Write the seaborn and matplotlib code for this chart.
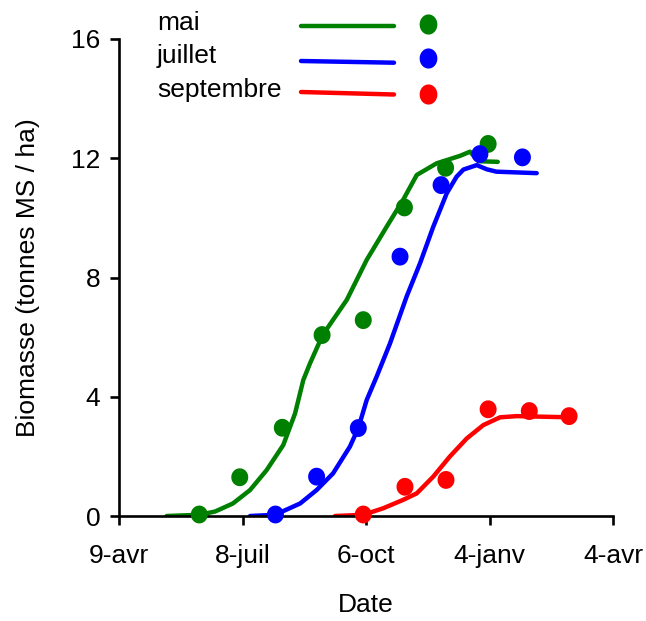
import numpy as np
import pandas as pd
import matplotlib
matplotlib.use("Agg")
import matplotlib.pyplot as plt
from matplotlib.lines import Line2D
from matplotlib.path import Path
import seaborn as sns

# ---- data (x = days after 9 April) ----
series_names = ["mai", "juillet", "septembre"]
series_colors = ["#008000", "#0000ff", "#ff0000"]

mai_obs_day = [58.5, 88, 119, 148, 178, 208, 238, 269]
mai_obs_val = [0.05, 1.3, 2.96, 6.07, 6.57, 10.35, 11.68, 12.48]
juillet_obs_day = [114, 144, 174.4, 204.8, 234.7, 263, 294]
juillet_obs_val = [0.05, 1.32, 2.95, 8.7, 11.1, 12.14, 12.03]
septembre_obs_day = [178, 208.4, 238.3, 269, 299, 328]
septembre_obs_val = [0.05, 0.98, 1.21, 3.58, 3.52, 3.35]

mai_fit_day = [34.7, 58.5, 70, 83, 95.5, 107.6, 119.7, 128.3, 134.3, 139.2, 148.4, 166, 180.5,
               195, 207, 217, 231.5, 248.5, 255.8, 262, 276]
mai_fit_val = [0.0, 0.04, 0.15, 0.42, 0.87, 1.54, 2.38, 3.44, 4.56, 5.12, 6.07, 7.25, 8.59,
               9.7, 10.6, 11.44, 11.83, 12.08, 12.22, 11.9, 11.88]
juillet_fit_day = [95.5, 113.7, 132, 144, 156, 168.3, 174.4, 180.5, 187.8, 197.5, 209.6, 219.4,
                   229, 238.8, 246, 251, 260.7, 268, 275, 304.4]
juillet_fit_val = [0.0, 0.04, 0.42, 0.87, 1.43, 2.33, 2.95, 3.89, 4.68, 5.79, 7.36, 8.48,
                   9.7, 10.82, 11.38, 11.62, 11.77, 11.63, 11.55, 11.5]
septembre_fit_day = [157.4, 178, 192.6, 207, 217, 229, 241, 253.4, 265.5, 277.7, 289.8, 328.6]
septembre_fit_val = [0.0, 0.04, 0.26, 0.54, 0.76, 1.32, 1.99, 2.6, 3.05, 3.31, 3.35, 3.31]

x_ticks = [0, 90, 180, 270, 360]
x_tick_labels = ["9-avr", "8-juil", "6-oct", "4-janv", "4-avr"]
y_ticks = [0, 4, 8, 12, 16]

obs = pd.concat([
    pd.DataFrame({"day": mai_obs_day, "val": mai_obs_val, "serie": "mai"}),
    pd.DataFrame({"day": juillet_obs_day, "val": juillet_obs_val, "serie": "juillet"}),
    pd.DataFrame({"day": septembre_obs_day, "val": septembre_obs_val, "serie": "septembre"}),
], ignore_index=True)
fit = pd.concat([
    pd.DataFrame({"day": mai_fit_day, "val": mai_fit_val, "serie": "mai"}),
    pd.DataFrame({"day": juillet_fit_day, "val": juillet_fit_val, "serie": "juillet"}),
    pd.DataFrame({"day": septembre_fit_day, "val": septembre_fit_val, "serie": "septembre"}),
], ignore_index=True)

sns.set_theme(style="ticks")
plt.rcParams["font.family"] = ["Liberation Sans", "DejaVu Sans"]

# slightly tall oval markers, as in the reference
_t = np.linspace(0, 2 * np.pi, 60)
oval_pt = Path(np.column_stack([0.95 * np.cos(_t), np.sin(_t)]), closed=True)
oval_lg = Path(np.column_stack([0.88 * np.cos(_t), np.sin(_t)]), closed=True)

FS = 19
fig = plt.figure(figsize=(6.46, 6.21), dpi=100)
W, H = 646, 621
ax = fig.add_axes([119 / W, (H - 516) / H, (613 - 119) / W, (516 - 39) / H])

palette = dict(zip(series_names, series_colors))
sns.lineplot(data=fit, x="day", y="val", hue="serie", palette=palette, hue_order=series_names,
             linewidth=3.2, ax=ax, legend=False, sort=False, estimator=None)
sns.scatterplot(data=obs, x="day", y="val", hue="serie", palette=palette, hue_order=series_names,
                s=165, marker=oval_pt, linewidth=0, ax=ax, legend=False, zorder=5, clip_on=False)

ax.set_xlim(0, 360)
ax.set_ylim(0, 16)
ax.set_xticks(x_ticks)
ax.set_xticklabels(x_tick_labels)
ax.set_yticks(y_ticks)
ax.set_yticklabels([str(v) for v in y_ticks])
sns.despine(ax=ax)
for s in ["left", "bottom"]:
    ax.spines[s].set_linewidth(1.9)
    ax.spines[s].set_color("black")
ax.tick_params(axis="both", which="major", length=6.5, width=1.9, color="black",
               labelsize=FS, labelcolor="black", direction="out")
ax.tick_params(axis="x", pad=14)
ax.tick_params(axis="y", pad=7)
ax.set_xlabel("Date", fontsize=FS, labelpad=18, color="black")
ax.set_ylabel("Biomasse (tonnes MS / ha)", fontsize=FS, labelpad=22, color="black")

# ---- legend (custom layout: label, line, dot) ----
label_base = [30, 63, 97]
line_left = [26, 61, 92]
line_right = [26, 62.7, 94.5]
dot_y = [24.3, 58.3, 94]
for name, col, lb, l0, l1, dy in zip(series_names, series_colors, label_base,
                                     line_left, line_right, dot_y):
    fig.text(157 / W, 1 - lb / H, name, fontsize=FS, va="baseline", ha="left", color="black")
    fig.add_artist(Line2D([301 / W, 394 / W], [1 - l0 / H, 1 - l1 / H], color=col,
                          linewidth=3.2, transform=fig.transFigure))
    fig.add_artist(Line2D([427.5 / W], [1 - dy / H], marker=oval_lg, markersize=14.5,
                          markerfacecolor=col, markeredgewidth=0, linestyle="none",
                          transform=fig.transFigure))

fig.savefig("out.png", dpi=100)
